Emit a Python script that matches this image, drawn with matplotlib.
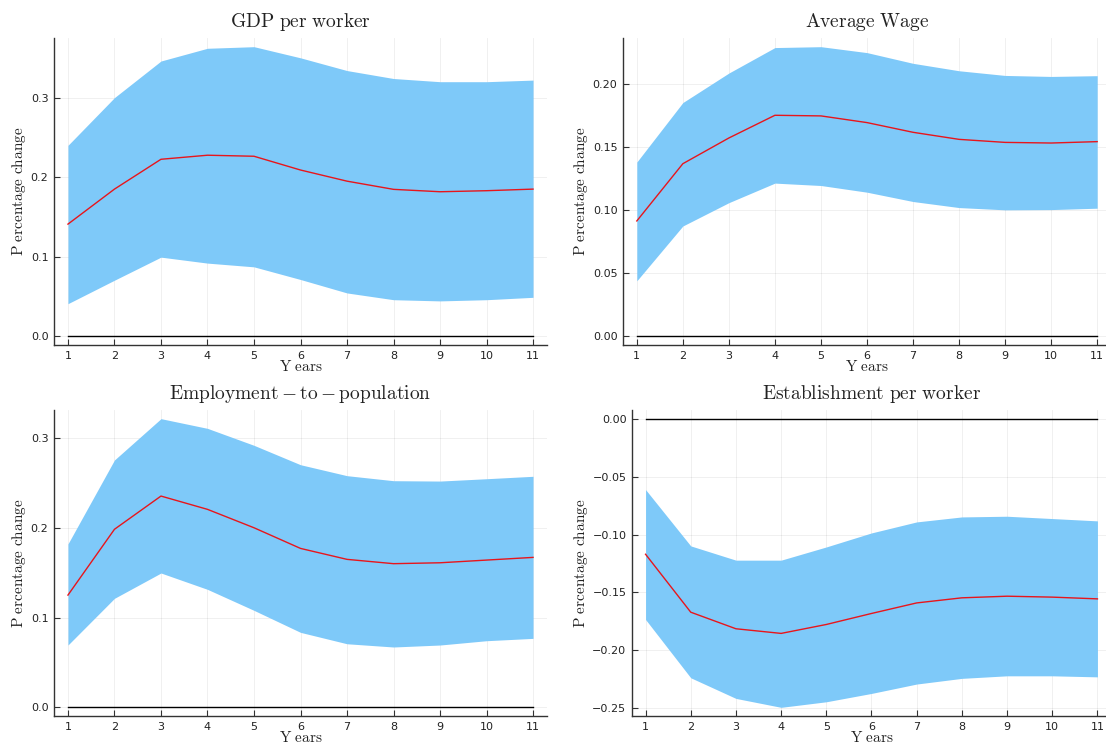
import numpy as np
import matplotlib
matplotlib.use("Agg")
import matplotlib.pyplot as plt

plt.rc('mathtext', fontset='cm')
plt.rc('font', family='DejaVu Sans')

years = np.arange(1, 12)

# GDP per worker
gdp_mid = [0.141, 0.185, 0.2225, 0.2276, 0.2263, 0.209, 0.195, 0.1847, 0.1817, 0.183, 0.185]
gdp_lo = [0.041, 0.0705, 0.0995, 0.092, 0.0873, 0.0714, 0.0545, 0.046, 0.0445, 0.046, 0.049]
gdp_hi = [0.240, 0.300, 0.346, 0.362, 0.364, 0.350, 0.334, 0.324, 0.320, 0.320, 0.322]

# Average wage
wage_mid = [0.0915, 0.1369, 0.1573, 0.1753, 0.1748, 0.1695, 0.1618, 0.1562, 0.1538, 0.1533, 0.1544]
wage_lo = [0.044, 0.0875, 0.106, 0.1215, 0.1196, 0.1143, 0.1069, 0.1021, 0.1003, 0.1005, 0.1016]
wage_hi = [0.1382, 0.1854, 0.2088, 0.229, 0.2297, 0.225, 0.2165, 0.2106, 0.2069, 0.2061, 0.2067]

# Employment-to-population
emp_mid = [0.125, 0.1983, 0.2353, 0.2205, 0.200, 0.177, 0.1648, 0.160, 0.161, 0.164, 0.167]
emp_lo = [0.0694, 0.1214, 0.1496, 0.1314, 0.108, 0.0835, 0.0708, 0.0672, 0.0694, 0.0742, 0.0768]
emp_hi = [0.182, 0.2755, 0.3215, 0.3107, 0.2918, 0.2702, 0.258, 0.2524, 0.252, 0.2546, 0.2573]

# Establishments per worker
est_mid = [-0.117, -0.167, -0.1813, -0.1853, -0.1776, -0.1681, -0.159, -0.1546, -0.1532, -0.154, -0.1555]
est_lo = [-0.1733, -0.2236, -0.2414, -0.2491, -0.2443, -0.2371, -0.229, -0.2241, -0.2219, -0.2219, -0.2228]
est_hi = [-0.0612, -0.1098, -0.1221, -0.1221, -0.1107, -0.0986, -0.0891, -0.0848, -0.0842, -0.0862, -0.0882]

panels = [
    (r'$\mathrm{GDP\ per\ worker}$', gdp_lo, gdp_mid, gdp_hi, [0.0, 0.1, 0.2, 0.3], '%.1f',
     [54, 38, 547, 345]),
    (r'$\mathrm{Average\ Wage}$', wage_lo, wage_mid, wage_hi, [0.0, 0.05, 0.10, 0.15, 0.20], '%.2f',
     [623, 38, 1111, 345]),
    (r'$\mathrm{Employment-to-population}$', emp_lo, emp_mid, emp_hi, [0.0, 0.1, 0.2, 0.3], '%.1f',
     [54, 410, 547, 716]),
    (r'$\mathrm{Establishment\ per\ worker}$', est_lo, est_mid, est_hi,
     [-0.25, -0.20, -0.15, -0.10, -0.05, 0.0], '%.2f',
     [632, 410, 1111, 716]),
]

W, H = 1106, 746
fig = plt.figure(figsize=(W / 100, H / 100), dpi=100)

for title, lo, mid, hi, yt, fmt, box in panels:
    l, t, r, b = box
    ax = fig.add_axes([l / W, 1 - b / H, (r - l) / W, (b - t) / H])
    ax.fill_between(years, lo, hi, color='#7ec9f9', lw=0)
    ax.plot(years, mid, color='#e8151b', lw=1)
    ax.plot(years, np.zeros(len(years)), color='black', lw=1)

    allv = np.concatenate([lo, hi, [0.0]])
    span = allv.max() - allv.min()
    ax.set_ylim(allv.min() - 0.03 * span, allv.max() + 0.03 * span)
    ax.set_xlim(0.7, 11.3)

    ax.set_xticks(years)
    ax.set_yticks(yt)
    ax.set_yticklabels([(fmt % v).replace('-', '\u2212') for v in yt])
    ax.grid(True, color='black', alpha=0.07, lw=0.6)
    ax.set_axisbelow(True)
    for s in ['top', 'right']:
        ax.spines[s].set_visible(False)
    for s in ['left', 'bottom']:
        ax.spines[s].set_color('#333333')
        ax.spines[s].set_linewidth(1.0)
    ax.tick_params(direction='in', length=4, width=0.8, color='#333333',
                   labelsize=8, labelcolor='#222222', pad=4)

    ax.set_title(title, fontsize=14, pad=8, color='#222222')
    ax.set_xlabel(r'$\mathrm{Y\ ears}$', fontsize=11, labelpad=-1, color='#222222')
    ax.set_ylabel(r'$\mathrm{P\ ercentage\ change}$', fontsize=11, labelpad=2, color='#222222')

fig.savefig('out.png', dpi=100)
